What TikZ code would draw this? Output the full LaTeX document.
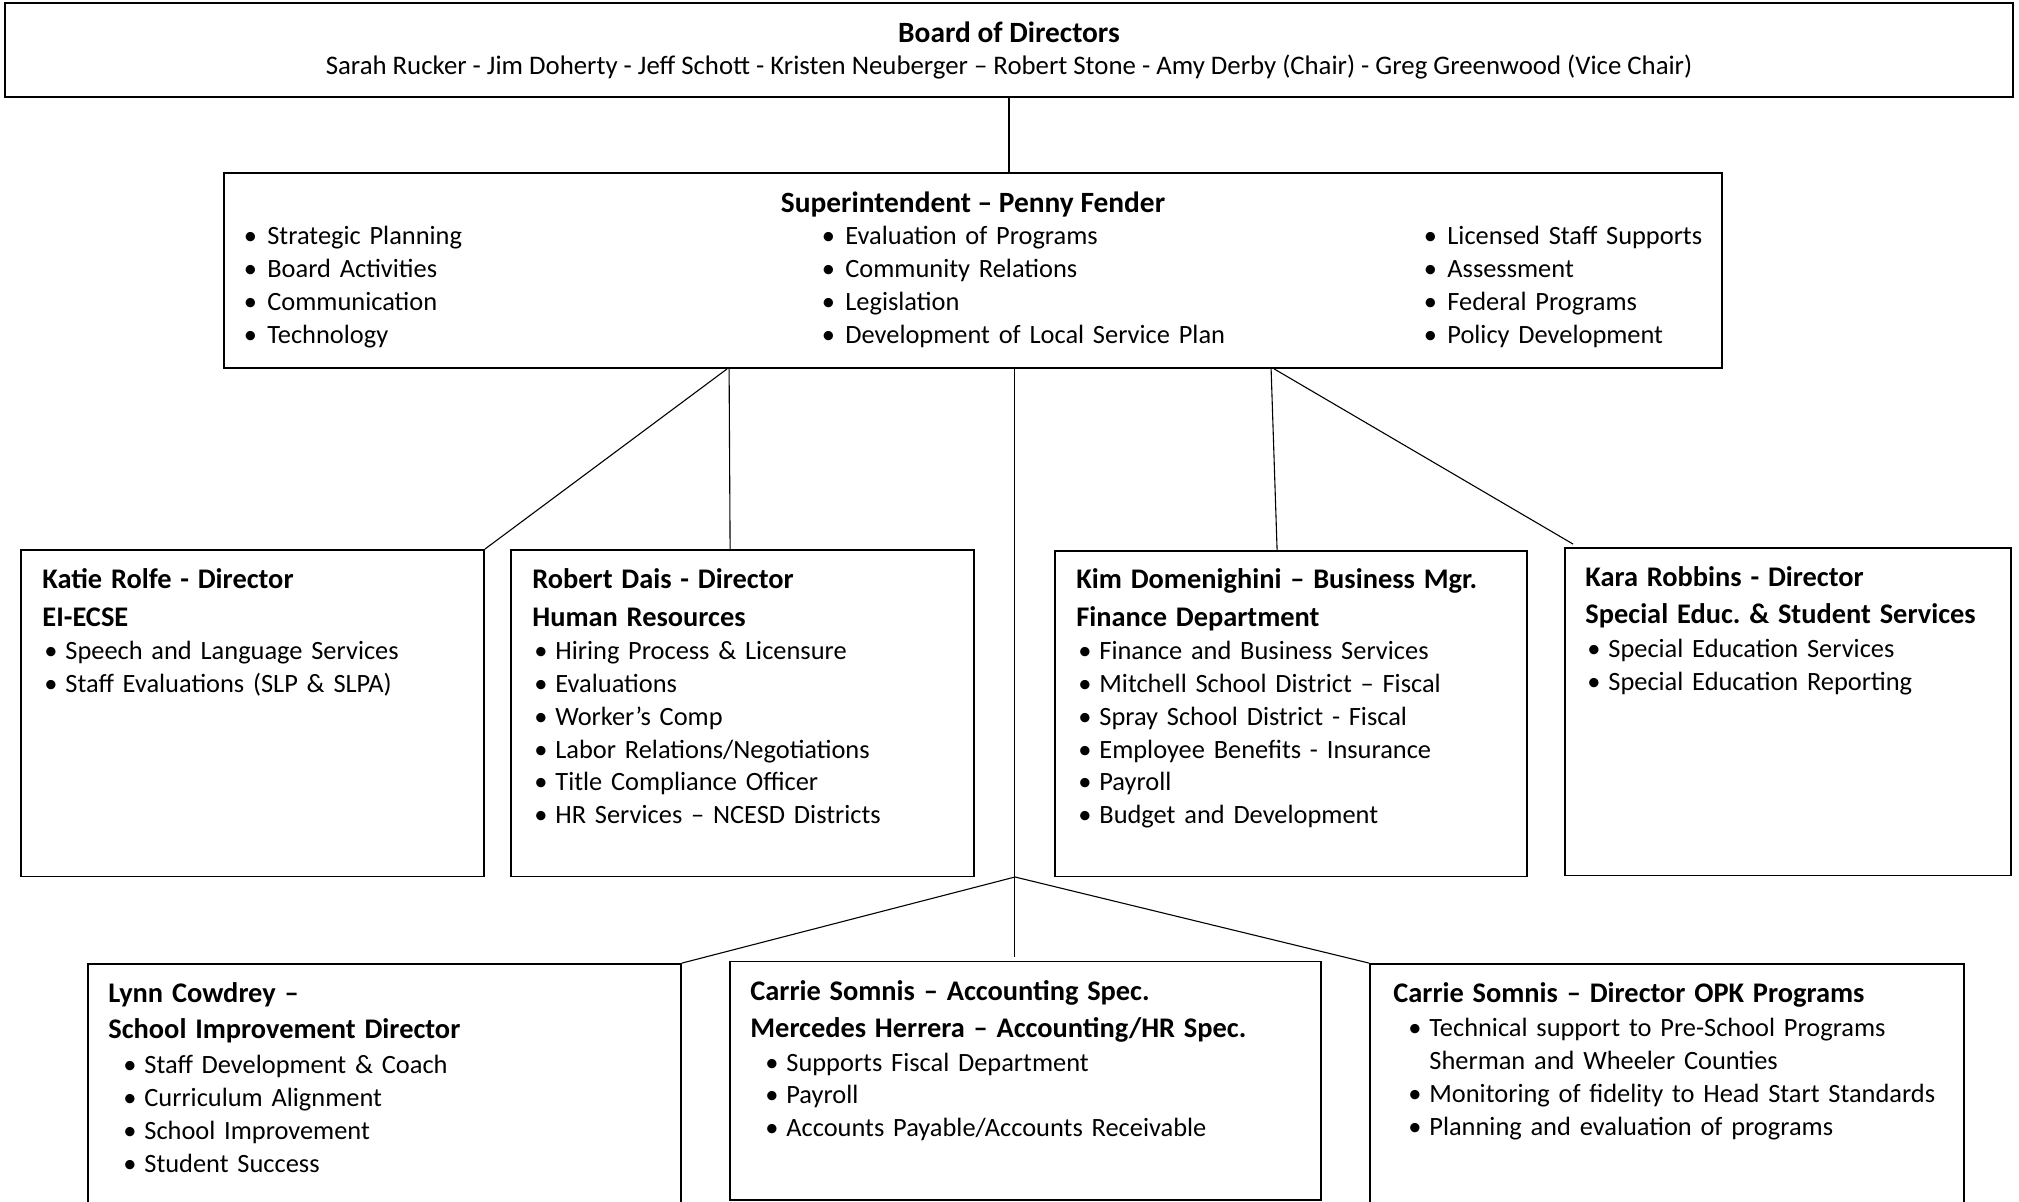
\documentclass[tikz,border=0pt]{standalone}
\usepackage{fontspec}
\setmainfont{Carlito}
\usetikzlibrary{fit,calc}
\tikzset{
  box/.style={draw=black, line width=0.9pt, inner sep=0pt, fill=white},
  link/.style={draw=black, line width=0.55pt},
  txt/.style={anchor=base west, inner sep=0pt, align=left, text width=#1,
    font=\fontsize{13.2}{16.4}\selectfont},
  txt/.default=220pt,
  ttl/.style={anchor=base, inner sep=0pt, font=\fontsize{13.4}{16}\selectfont},
  bigttl/.style={anchor=base, inner sep=0pt, font=\fontsize{14.7}{16}\selectfont\bfseries},
}
\frenchspacing
\newcommand{\hd}[1]{{\fontsize{14.2}{16.4}\selectfont\bfseries #1}}
\newcommand{\ia}[1]{\hspace*{1pt}\makebox[10.5pt][l]{\textbullet}#1}
\newcommand{\ib}[1]{\hspace*{7.5pt}\makebox[10.5pt][l]{\textbullet}#1}
\newcommand{\ic}[1]{\makebox[9.5pt][l]{\hspace*{-2.3pt}\textbullet}#1}
\begin{document}
\begin{tikzpicture}[x=0.5pt,y=-0.5pt]
\useasboundingbox (0,0) rectangle (2019,1202);
\clip (0,0) rectangle (2019,1202);
% boxes
\node[box, fit={(5,3) (2013,97)}] (board) {};
\node[box, fit={(224,173) (1722,368)}] (super) {};
\node[box, fit={(21,550) (484,876.5)}] (katie) {};
\node[box, fit={(511,550) (974,876.5)}] (robert) {};
\node[box, fit={(1055,551) (1527,876.5)}] (kim) {};
\node[box, fit={(1565,548) (2011,875.5)}] (kara) {};
\node[box, fit={(88,964) (681,1240)}] (lynn) {};
\node[box, fit={(730,961.5) (1321,1200)}] (acct) {};
\node[box, fit={(1370,964) (1964,1240)}] (opk) {};
% connectors
\draw[link] (board.south) -- (board.south |- super.north);
\draw[link] ($(super.south west)+(504,0)$) -- (katie.north east);
\draw[link] ($(super.south west)+(506,0)$) -- ($(robert.north west)+(220,0)$);
\draw[link] ($(super.south west)+(1048,0)$) -- ($(kim.north west)+(223,0)$);
\draw[link] ($(super.south west)+(1051,0)$) -- ($(kara.north west)+(9,-3)$);
\draw[link] ($(super.south west)+(791,0)$) -- ($(acct.north west)+(285,-4)$);
\coordinate (j) at (1015,877);
\draw[link] (j) -- (lynn.north east);
\draw[link] (j) -- (opk.north west);
% board text
\node[bigttl] (boardttl) at (1009,42.5) {Board of Directors};
\node[ttl] (boardnames) at (1009,74.5) {Sarah Rucker - Jim Doherty - Jeff Schott - Kristen Neuberger -- Robert Stone - Amy Derby (Chair) - Greg Greenwood (Vice Chair)};
% superintendent text
\node[bigttl] (superttl) at (973,212.5) {Superintendent -- Penny Fender};
\node[txt=200pt] (sc1) at (248,245) {\ic{Strategic Planning}\\ \ic{Board Activities}\\ \ic{Communication}\\ \ic{Technology}};
\node[txt=240pt] (sc2) at (826,245) {\ic{Evaluation of Programs}\\ \ic{Community Relations}\\ \ic{Legislation}\\ \ic{Development of Local Service Plan}};
\node[txt=140pt] (sc3) at (1428,245) {\ic{Licensed Staff Supports}\\ \ic{Assessment}\\ \ic{Federal Programs}\\ \ic{Policy Development}};
% directors row
\node[txt=215pt] (katiet) at (42,589) {\hd{Katie Rolfe - Director}\\[2.2pt] \hd{EI-ECSE}\\[0.4pt]
  \ia{Speech and Language Services}\\ \ia{Staff Evaluations (SLP \& SLPA)}};
\node[txt=215pt] (robertt) at (532,589) {\hd{Robert Dais - Director}\\[2.2pt] \hd{Human Resources}\\[0.4pt]
  \ia{Hiring Process \& Licensure}\\ \ia{Evaluations}\\ \ia{Worker’s Comp}\\ \ia{Labor Relations/Negotiations}\\ \ia{Title Compliance Officer}\\ \ia{HR Services -- NCESD Districts}};
\node[txt=220pt] (kimt) at (1076,589) {\hd{Kim Domenighini -- Business Mgr.}\\[2.2pt] \hd{Finance Department}\\[0.4pt]
  \ia{Finance and Business Services}\\ \ia{Mitchell School District -- Fiscal}\\ \ia{Spray School District - Fiscal}\\ \ia{Employee Benefits - Insurance}\\ \ia{Payroll}\\ \ia{Budget and Development}};
\node[txt=210pt] (karat) at (1585,586.6) {\hd{Kara Robbins - Director}\\[2.2pt] \hd{Special Educ. \& Student Services}\\[0.4pt]
  \ia{Special Education Services}\\ \ia{Special Education Reporting}};
% bottom row
\node[txt=280pt] (lynnt) at (108,1002) {\hd{Lynn Cowdrey --}\\[1.8pt] \hd{School Improvement Director}\\[1.2pt]
  \ib{Staff Development \& Coach}\\ \ib{Curriculum Alignment}\\ \ib{School Improvement}\\ \ib{Student Success}};
\node[txt=280pt] (acctt) at (750,1000.7) {\hd{Carrie Somnis -- Accounting Spec.}\\[1.8pt] \hd{Mercedes Herrera -- Accounting/HR Spec.}\\[0.6pt]
  \ib{Supports Fiscal Department}\\ \ib{Payroll}\\ \ib{Accounts Payable/Accounts Receivable}};
\node[txt=280pt] (opkt) at (1393,1002) {\hd{Carrie Somnis -- Director OPK Programs}\\[1.0pt]
  \ib{Technical support to Pre-School Programs}\\ \hspace*{18pt}Sherman and Wheeler Counties\\ \ib{Monitoring of fidelity to Head Start Standards}\\ \ib{Planning and evaluation of programs}};
\end{tikzpicture}
\end{document}
